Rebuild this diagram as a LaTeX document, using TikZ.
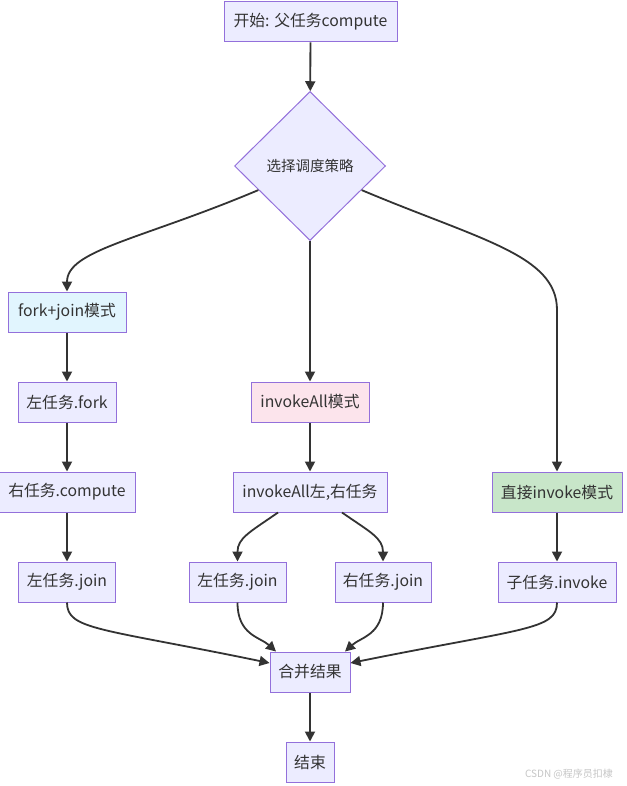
\documentclass[tikz,border=0pt]{standalone}
\usepackage{fontspec}
\setmainfont{Noto Sans CJK SC}
\usetikzlibrary{shapes.geometric,arrows.meta}

\definecolor{boxfill}{HTML}{ECECFF}
\definecolor{boxline}{HTML}{9370DB}
\definecolor{linecol}{HTML}{333333}
\definecolor{forkfill}{HTML}{E1F5FE}
\definecolor{allfill}{HTML}{FCE4EC}
\definecolor{directfill}{HTML}{C8E6C9}

\tikzset{
  flowbox/.style={draw=boxline, fill=boxfill, line width=1pt, minimum height=40pt,
                  inner sep=0pt, text=linecol, font=\fontsize{15.8}{18}\selectfont},
  flowline/.style={draw=linecol, line width=1.8pt,
                   -{Triangle[length=10pt,width=10pt]}}
}

\begin{document}
\begin{tikzpicture}[x=1pt, y=-1pt]

\useasboundingbox[fill=white] (0,0) rectangle (626,786);

%% ── Start and decision ──────────────────────────────────────────────────────
\node[flowbox, minimum width=173pt] (start) at (310.5, 22) {开始: 父任务compute};
\node[flowbox, shape=diamond, minimum width=151pt, minimum height=149pt,
      font=\fontsize{14.5}{16}\selectfont] (pick) at (310, 166) {选择调度策略};

%% ── fork+join branch (x = 67) ───────────────────────────────────────────────
\node[flowbox, fill=forkfill, minimum width=118pt] (fork)   at (67, 312) {fork+join模式};
\node[flowbox, minimum width=98pt]  (lfork)   at (67, 402) {左任务.fork};
\node[flowbox, minimum width=136pt] (rcomp)   at (67, 492) {右任务.compute};
\node[flowbox, minimum width=97pt]  (ljoinA)  at (67, 582) {左任务.join};

%% ── invokeAll branch (x = 310) ──────────────────────────────────────────────
\node[flowbox, fill=allfill, minimum width=118pt] (all) at (310, 402) {invokeAll模式};
\node[flowbox, minimum width=154pt] (allboth) at (310, 492) {invokeAll左,右任务};
\node[flowbox, minimum width=97pt]  (ljoinB)  at (237.5, 582) {左任务.join};
\node[flowbox, minimum width=96pt]  (rjoin)   at (383, 582) {右任务.join};

%% ── direct invoke branch (x = 557) ──────────────────────────────────────────
\node[flowbox, fill=directfill, minimum width=130pt] (direct) at (557, 492) {直接invoke模式};
\node[flowbox, minimum width=118pt] (subinv) at (557, 582) {子任务.invoke};

%% ── Merge and end ───────────────────────────────────────────────────────────
\node[flowbox, minimum width=80pt] (merge) at (310, 672) {合并结果};
\node[flowbox, minimum width=48pt] (finish) at (310, 762) {结束};

\node[text=gray!45, font=\fontsize{10}{12}\selectfont] (mark) at (569, 774) {CSDN @程序员扣棣};

%% ── Connectors ──────────────────────────────────────────────────────────────
\draw[flowline] (start) -- (pick);
\draw[flowline] (pick.205) .. controls (140,240) and (67,250) .. (fork.north);
\draw[flowline] (pick.south) -- (all.north);
\draw[flowline] (pick.335) .. controls (480,240) and (557,255) .. (557,310) -- (direct.north);

\draw[flowline] (fork) -- (lfork);
\draw[flowline] (lfork) -- (rcomp);
\draw[flowline] (rcomp) -- (ljoinA);

\draw[flowline] (all) -- (allboth);
\draw[flowline] ([xshift=-32pt]allboth.south) .. controls (250,532) and (237.5,538) .. (ljoinB.north);
\draw[flowline] ([xshift=32pt]allboth.south) .. controls (370,532) and (383,538) .. (rjoin.north);

\draw[flowline] (direct) -- (subinv);

\draw[flowline] (ljoinA.south) .. controls (67,630) and (100,628) .. ([yshift=9pt]merge.west);
\draw[flowline] (ljoinB.south) .. controls (237.5,635) and (260,637) .. ([xshift=-34pt]merge.north);
\draw[flowline] (rjoin.south) .. controls (383,635) and (361,637) .. ([xshift=35pt]merge.north);
\draw[flowline] (subinv.south) .. controls (557,630) and (524,628) .. ([yshift=9pt]merge.east);

\draw[flowline] (merge) -- (finish);

\end{tikzpicture}
\end{document}
